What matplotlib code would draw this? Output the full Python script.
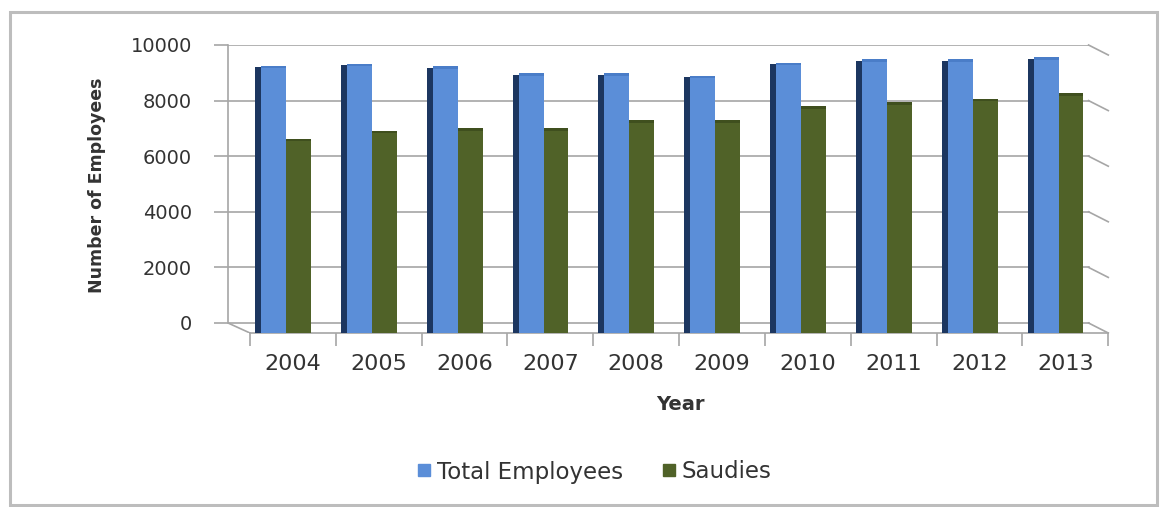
import matplotlib
matplotlib.use("Agg")
import matplotlib.pyplot as plt
import numpy as np
from matplotlib.lines import Line2D
from matplotlib.patches import Rectangle

years = ['2004', '2005', '2006', '2007', '2008', '2009', '2010', '2011', '2012', '2013']
total_employees = [9250, 9330, 9230, 8980, 8980, 8900, 9370, 9480, 9490, 9560]
saudies = [6620, 6920, 7000, 7000, 7290, 7300, 7790, 7940, 8070, 8260]
y_ticks = [0, 2000, 4000, 6000, 8000, 10000]

W, H = 1161, 507
fig = plt.figure(figsize=(W / 100, H / 100), dpi=100)
fig.patch.set_facecolor('white')

# outer chart frame
fig.add_artist(Rectangle((10 / W, 1 - 505 / H), (1157 - 10) / W, (505 - 12) / H,
                         transform=fig.transFigure, fill=False,
                         edgecolor='#BDBDBD', lw=2.2))

ax_l, ax_r, ax_t, ax_b = 228, 1110, 45, 333
ax = fig.add_axes([ax_l / W, 1 - ax_b / H, (ax_r - ax_l) / W, (ax_b - ax_t) / H])

depth = 360          # front/back offset of the 3D floor, in value units
xl, xb, xr = -0.756, 9.27, 9.52
ax.set_xlim(xl, xr)
ax.set_ylim(-depth, 10000)

grid_c = '#A6A6A6'
x = np.arange(len(years))

# back wall gridlines and right-wall slants
for v in y_ticks:
    ax.plot([xl, xb], [v, v], color=grid_c, lw=1.2, zorder=1)
    ax.plot([xb, xr - 0.02], [v, v - depth], color=grid_c, lw=1.2, zorder=1, clip_on=False)
# floor left edge
ax.plot([xl, -0.5], [0, -depth], color=grid_c, lw=1.2, zorder=1)

# bars: dark side face, front faces
side_w, bar_w = 0.07, 0.29
blue_off = -0.5 + 0.13 + bar_w / 2
green_off = blue_off + bar_w
tot = np.array(total_employees)
sau = np.array(saudies)
ax.bar(x - 0.5 + 0.06 + side_w / 2, tot + depth - 60, bottom=-depth + 10, width=side_w,
       color='#1C3660', zorder=3, linewidth=0)
ax.bar(x + blue_off, tot + depth, bottom=-depth, width=bar_w,
       color='#5B8ED8', zorder=3, linewidth=0)
ax.bar(x + blue_off, np.full(len(x), 90), bottom=tot - 90, width=bar_w,
       color='#4A7DC8', zorder=4, linewidth=0)
ax.bar(x + green_off, sau + depth, bottom=-depth, width=bar_w,
       color='#506228', zorder=3, linewidth=0)
ax.bar(x + green_off, np.full(len(x), 90), bottom=sau - 90, width=bar_w,
       color='#3F4F1E', zorder=4, linewidth=0)

for s in ['top', 'right']:
    ax.spines[s].set_visible(False)
ax.spines['left'].set_bounds(0, 10000)
ax.spines['left'].set_color(grid_c)
ax.spines['left'].set_linewidth(1.2)
ax.spines['bottom'].set_bounds(-0.5, xr - 0.02)
ax.spines['bottom'].set_color(grid_c)
ax.spines['bottom'].set_linewidth(1.2)

ax.set_yticks(y_ticks)
ax.set_yticklabels([str(v) for v in y_ticks])
ax.tick_params(axis='y', length=10, width=1.2, color=grid_c, pad=16,
               labelsize=14, labelcolor='#333333')

ax.set_xticks(np.arange(len(years) + 1) - 0.5)
ax.set_xticklabels([])
ax.set_xticks(x, minor=True)
ax.set_xticklabels(years, minor=True)
ax.tick_params(axis='x', which='major', length=9, width=1.2, color=grid_c)
ax.tick_params(axis='x', which='minor', length=0, pad=15, labelsize=16,
               labelcolor='#333333')

ax.set_xlabel('Year', fontsize=14, fontweight='bold', color='#333333')
ax.xaxis.set_label_coords((680 - ax_l) / (ax_r - ax_l), (ax_b - 405) / (ax_b - ax_t))
ax.xaxis.label.set_va('center')
ax.set_ylabel('Number of Employees', fontsize=12.5, fontweight='bold', color='#333333')
ax.yaxis.set_label_coords((97 - ax_l) / (ax_r - ax_l), (ax_b - 185) / (ax_b - ax_t))
ax.yaxis.label.set_va('center')

handles = [Line2D([], [], marker='s', ls='none', markersize=9, color='#5B8ED8'),
           Line2D([], [], marker='s', ls='none', markersize=9, color='#506228')]
fig.legend(handles, ['Total Employees', 'Saudies'], loc='center',
           bbox_to_anchor=(592 / W, 1 - 472 / H), ncol=2, frameon=False,
           fontsize=16.5, handletextpad=0.05, columnspacing=1.5,
           labelcolor='#333333', handlelength=1.0)

fig.savefig('out.png', dpi=100, facecolor='white')
